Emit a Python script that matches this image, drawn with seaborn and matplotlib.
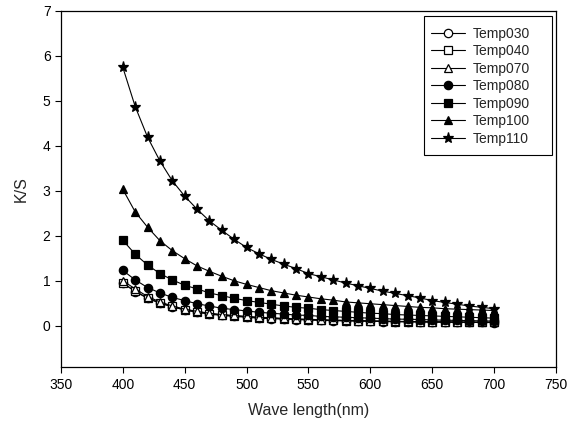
import matplotlib
matplotlib.use("Agg")
import matplotlib.pyplot as plt
from matplotlib.patches import Rectangle
import seaborn as sns
import numpy as np

sns.set_theme(style="white")
plt.rcParams['font.family'] = ['Liberation Sans', 'DejaVu Sans']

wavelength = list(range(400, 701, 10))

temp030 = [0.96, 0.76, 0.61, 0.50, 0.42, 0.35, 0.30, 0.26, 0.23, 0.21, 0.19, 0.17, 0.16, 0.15, 0.14,
           0.13, 0.12, 0.115, 0.11, 0.105, 0.10, 0.095, 0.09, 0.088, 0.085, 0.082, 0.08, 0.078, 0.076, 0.074, 0.072]
temp040 = [0.94, 0.77, 0.62, 0.51, 0.43, 0.36, 0.31, 0.27, 0.24, 0.22, 0.20, 0.18, 0.17, 0.155, 0.145,
           0.135, 0.125, 0.12, 0.115, 0.11, 0.105, 0.10, 0.095, 0.092, 0.089, 0.086, 0.083, 0.081, 0.079, 0.077, 0.075]
temp070 = [1.00, 0.82, 0.65, 0.53, 0.44, 0.37, 0.32, 0.28, 0.25, 0.23, 0.21, 0.19, 0.18, 0.165, 0.155,
           0.145, 0.135, 0.128, 0.122, 0.116, 0.11, 0.105, 0.10, 0.097, 0.094, 0.091, 0.088, 0.086, 0.084, 0.082, 0.08]
temp080 = [1.23, 1.02, 0.85, 0.73, 0.63, 0.56, 0.49, 0.44, 0.39, 0.36, 0.33, 0.30, 0.28, 0.26, 0.24,
           0.23, 0.21, 0.20, 0.19, 0.18, 0.17, 0.16, 0.15, 0.145, 0.14, 0.13, 0.125, 0.12, 0.115, 0.11, 0.105]
temp090 = [1.90, 1.59, 1.35, 1.16, 1.02, 0.90, 0.82, 0.73, 0.67, 0.61, 0.56, 0.52, 0.48, 0.44, 0.41,
           0.39, 0.36, 0.34, 0.32, 0.30, 0.28, 0.27, 0.25, 0.24, 0.23, 0.22, 0.21, 0.20, 0.19, 0.18, 0.17]
temp100 = [3.03, 2.53, 2.19, 1.89, 1.67, 1.49, 1.33, 1.21, 1.10, 1.00, 0.92, 0.85, 0.78, 0.73, 0.68,
           0.64, 0.60, 0.57, 0.53, 0.51, 0.49, 0.47, 0.45, 0.43, 0.41, 0.40, 0.38, 0.37, 0.36, 0.35, 0.34]
temp110 = [5.74, 4.87, 4.19, 3.66, 3.22, 2.88, 2.59, 2.33, 2.12, 1.92, 1.74, 1.60, 1.475, 1.37, 1.27,
           1.16, 1.09, 1.02, 0.95, 0.89, 0.83, 0.77, 0.72, 0.67, 0.62, 0.56, 0.52, 0.48, 0.44, 0.41, 0.38]

labels = ["Temp030", "Temp040", "Temp070", "Temp080", "Temp090", "Temp100", "Temp110"]
series = [temp030, temp040, temp070, temp080, temp090, temp100, temp110]
markers = ['o', 's', '^', 'o', 's', '^', '*']
faces = ['white', 'white', 'white', 'black', 'black', 'black', 'black']
msizes = [6.0, 5.6, 6.0, 6.0, 5.6, 6.0, 8.0]

fig = plt.figure(figsize=(5.75, 4.28), dpi=100)
ax = fig.add_axes([0.106, 0.142, 0.861, 0.833])

for lab, ys, m, fc, ms in zip(labels, series, markers, faces, msizes):
    sns.lineplot(x=wavelength, y=ys, ax=ax, color='black', linewidth=0.8,
                 marker=m, markerfacecolor=fc, markeredgecolor='black',
                 markeredgewidth=0.9, markersize=ms, label=lab)

ax.set_xlim(350, 750)
ax.set_ylim(-0.92, 7)
ax.set_xticks(range(350, 751, 50))
ax.set_yticks(range(0, 8))
ax.tick_params(axis='both', which='both', direction='out', length=4, width=0.8,
               labelsize=10, colors='black', left=True, bottom=True)
for s in ax.spines.values():
    s.set_color('black')
    s.set_linewidth(0.9)
ax.set_xlabel("Wave length(nm)", fontsize=11.5, labelpad=8)
ax.set_ylabel("K/S", fontsize=11.5, labelpad=10)

leg = ax.legend(loc='upper left', bbox_to_anchor=(0.747, 0.955), borderaxespad=0,
                frameon=False, fontsize=10, handlelength=2.45,
                labelspacing=0.25, borderpad=0, handletextpad=0.55)
ax.add_patch(Rectangle((0.733, 0.595), 0.259, 0.390, transform=ax.transAxes,
                       fill=False, edgecolor='black', linewidth=0.8, zorder=5))

fig.savefig("out.png", dpi=100)
